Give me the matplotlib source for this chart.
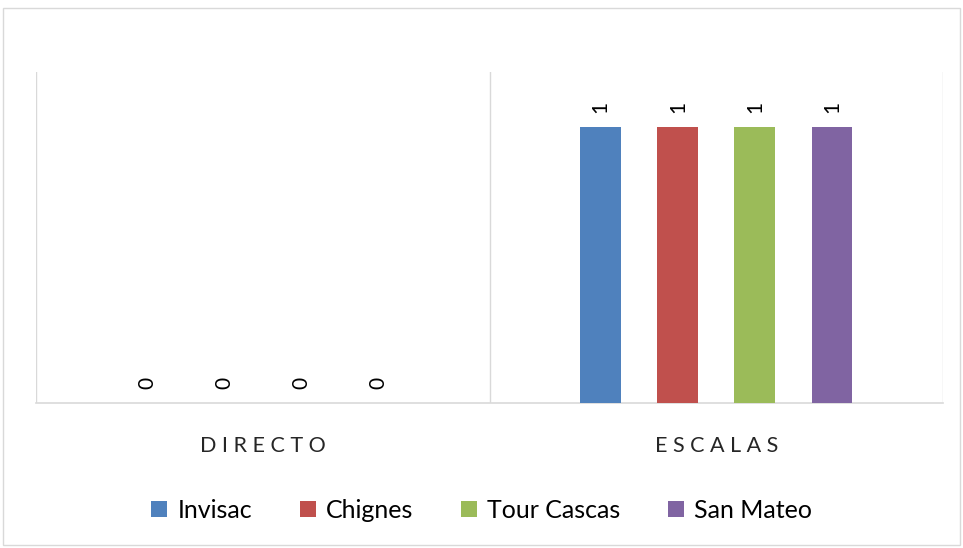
import matplotlib.pyplot as plt
from matplotlib.patches import Rectangle

categories = ['DIRECTO', 'ESCALAS']
series = ['Invisac', 'Chignes', 'Tour Cascas', 'San Mateo']
values = {
    'Invisac': [0, 1],
    'Chignes': [0, 1],
    'Tour Cascas': [0, 1],
    'San Mateo': [0, 1],
}
colors = ['#4F81BD', '#C0504D', '#9BBB59', '#8064A2']

plt.rcParams['font.family'] = ['Lato', 'DejaVu Sans']

fig = plt.figure(figsize=(9.63, 5.48), dpi=100)
ax = fig.add_axes([0.0375, 0.2646, 0.9418, 0.604])

# light border round the whole chart
fig.patches.append(Rectangle((0.003, 0.005), 0.994, 0.98, transform=fig.transFigure,
                             fill=False, edgecolor='#d9d9d9', linewidth=1))

x = list(range(len(categories)))
step = 0.17
width = 0.09
for i, (name, col) in enumerate(zip(series, colors)):
    off = (i - 1.5) * step
    xs = [v + off for v in x]
    bars = ax.bar(xs, values[name], width=width, color=col, label=name, zorder=3)
    for b, v in zip(bars, values[name]):
        ax.annotate(str(v), xy=(b.get_x() + b.get_width() / 2, v), xytext=(0, 10),
                    textcoords='offset points', rotation=90, ha='center', va='bottom',
                    fontsize=15, color='black')

ax.set_xlim(-0.5, 1.5)
ax.set_ylim(0, 1.2)
for s in ['top', 'left', 'right']:
    ax.spines[s].set_visible(False)
ax.spines['bottom'].set_color('#d9d9d9')
ax.spines['bottom'].set_linewidth(1.2)
for xv in [-0.5, 0.5, 1.5]:
    ax.axvline(xv, color='#d9d9d9', linewidth=1, zorder=1)

ax.set_yticks([])
ax.set_xticks(x, [' '.join(c) for c in categories], fontsize=15.5, color='#262626')
ax.tick_params(axis='x', length=0, pad=24)

fig.legend(loc='center', bbox_to_anchor=(0.5, 0.069), ncol=4, frameon=False,
           fontsize=18, handlelength=0.65, handleheight=0.65, handletextpad=0.4,
           columnspacing=1.9)

fig.savefig('out.png', dpi=100)
